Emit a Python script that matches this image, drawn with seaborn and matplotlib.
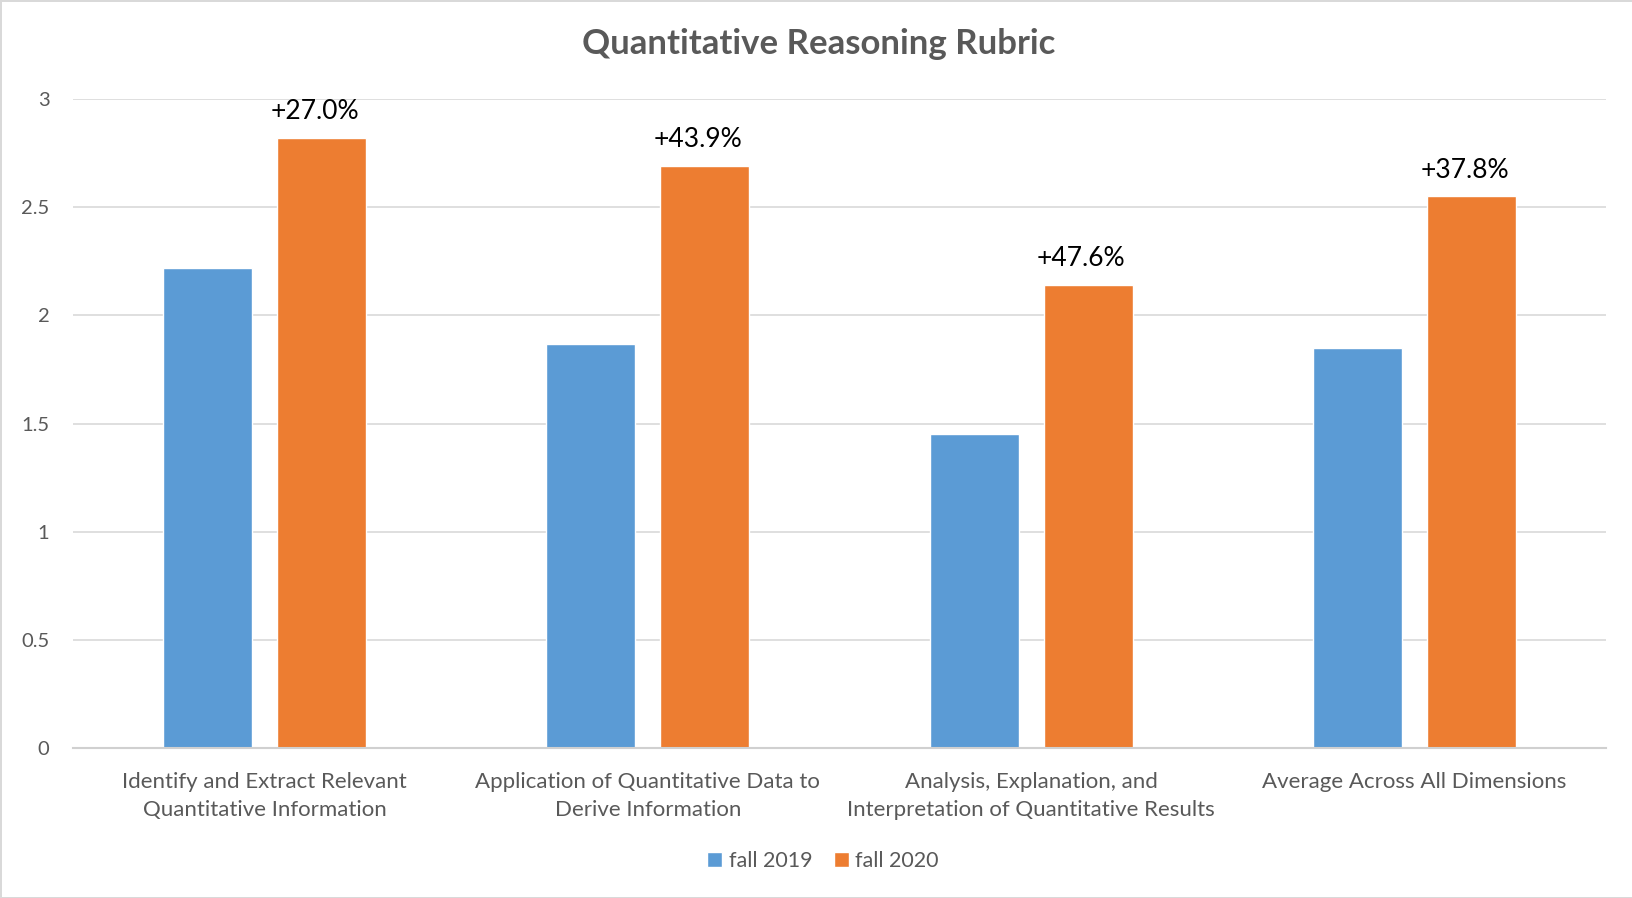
import pandas as pd
import numpy as np
import matplotlib
matplotlib.use("Agg")
import matplotlib.pyplot as plt
import seaborn as sns

# data
categories = ["Identify and Extract Relevant\nQuantitative Information",
              "Application of Quantitative Data to\nDerive Information",
              "Analysis, Explanation, and\nInterpretation of Quantitative Results",
              "Average Across All Dimensions"]
fall_2019 = [2.22, 1.87, 1.45, 1.85]
fall_2020 = [2.82, 2.69, 2.14, 2.55]
change_labels = ["+27.0%", "+43.9%", "+47.6%", "+37.8%"]

df = pd.DataFrame({
    "category": categories * 2,
    "score": fall_2019 + fall_2020,
    "term": ["fall 2019"] * 4 + ["fall 2020"] * 4,
})

sns.set_style("white")
plt.rcParams["font.family"] = ["Lato", "DejaVu Sans"]

fig = plt.figure(figsize=(16.33, 8.98), dpi=100)
fig.patch.set_edgecolor("#d9d9d9")
fig.patch.set_linewidth(2)
ax = fig.add_axes([0.0447, 0.167, 0.9388, 0.7227])

sns.barplot(data=df, x="category", y="score", hue="term",
            palette=["#5B9BD5", "#ED7D31"], saturation=1,
            width=0.595, gap=0.22, ax=ax, legend=True)

ax.set_ylim(0, 3)
ax.set_yticks([0, 0.5, 1, 1.5, 2, 2.5, 3])
ax.set_yticklabels(["0", "0.5", "1", "1.5", "2", "2.5", "3"])
ax.set_xlim(-0.5, 3.5)
ax.grid(axis="y", color="#d9d9d9", linewidth=1.2)
ax.set_axisbelow(True)
for s in ["left", "right", "top"]:
    ax.spines[s].set_visible(False)
ax.spines["bottom"].set_color("#d0d0d0")
ax.spines["bottom"].set_linewidth(1.5)
ax.tick_params(axis="y", length=0, pad=17, labelsize=14.5, labelcolor="#595959")
ax.tick_params(axis="x", length=0, pad=17, labelsize=16, labelcolor="#595959")
for lbl in ax.get_xticklabels():
    lbl.set_linespacing(1.55)
    lbl.set_verticalalignment("top")
ax.set_xlabel("")
ax.set_ylabel("")

# percent change above the fall 2020 bars
for bar, txt in zip(ax.containers[1], change_labels):
    ax.annotate(txt, (bar.get_x() + bar.get_width() / 2, bar.get_height()),
                xytext=(-5, 19), textcoords="offset points",
                ha="center", va="center", fontsize=19, color="black")

fig.text(819 / 1633, 1 - 44 / 898, "Quantitative Reasoning Rubric", fontsize=25,
         fontweight="bold", color="#595959", ha="center", va="center")

handles = ax.get_legend().legend_handles
ax.get_legend().remove()
fig.legend(handles=handles, labels=["fall 2019", "fall 2020"], loc="center",
           bbox_to_anchor=(823 / 1633, 1 - 861 / 898), ncol=2, frameon=False,
           fontsize=15.5, labelcolor="#595959", handlelength=0.7, handleheight=0.7,
           handletextpad=0.3, columnspacing=1.0)

fig.savefig("out.png", dpi=100)
